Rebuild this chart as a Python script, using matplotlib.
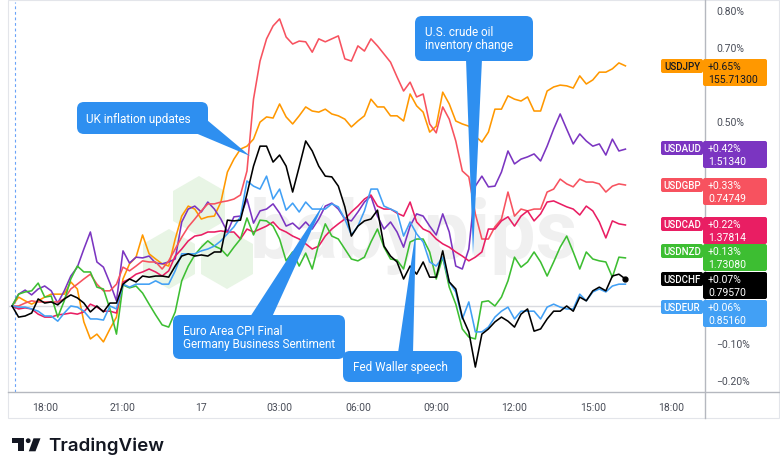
import numpy as np
import matplotlib
matplotlib.use("Agg")
import matplotlib.pyplot as plt
from matplotlib.patches import FancyBboxPatch, Polygon, RegularPolygon, Rectangle, Circle

plt.rcParams['font.family'] = ['Roboto', 'DejaVu Sans']

# ---------------- data ----------------
symbols = ["USDJPY", "USDAUD", "USDGBP", "USDCAD", "USDNZD", "USDCHF", "USDEUR"]
last_prices = ["155.71300", "1.51340", "0.74749", "1.37814", "1.73080", "0.79570", "0.85160"]
x_tick_labels = ["18:00", "21:00", "17", "03:00", "06:00", "09:00", "12:00", "15:00", "18:00"]
x_tick_hours = [0, 3, 6, 9, 12, 15, 18, 21, 24]          # hours after 18:00 (day 16)
# price-scale labels that are visible (the others sit under the value badges)
y_ticks = [-0.2, -0.1, 0.5, 0.7, 0.8]

# % change, 15-minute bars starting 16:45
usdjpy = [0.000, 0.024, 0.014, 0.005, 0.014, 0.024, 0.032, 0.032, 0.032, 0.065,
          0.046, -0.043, -0.089, -0.076, -0.097, -0.062, -0.030, 0.073, 0.114, 0.132,
          0.192, 0.141, 0.127, 0.114, 0.108, 0.181, 0.243, 0.270, 0.262, 0.235,
          0.241, 0.243, 0.281, 0.362, 0.397, 0.424, 0.432, 0.451, 0.497, 0.511,
          0.508, 0.546, 0.511, 0.492, 0.514, 0.538, 0.527, 0.524, 0.532, 0.519,
          0.514, 0.505, 0.484, 0.500, 0.514, 0.559, 0.538, 0.538, 0.514, 0.514,
          0.500, 0.573, 0.541, 0.524, 0.470, 0.486, 0.578, 0.546, 0.500, 0.492,
          0.486, 0.459, 0.443, 0.470, 0.532, 0.532, 0.568, 0.559, 0.554, 0.565,
          0.527, 0.527, 0.581, 0.592, 0.597, 0.595, 0.589, 0.622, 0.600, 0.611,
          0.632, 0.632, 0.641, 0.657, 0.649]
usdaud = [0.000, 0.032, 0.043, 0.030, 0.046, 0.054, 0.041, 0.008, 0.041, 0.081,
          0.105, 0.154, 0.200, 0.119, 0.105, 0.062, 0.014, 0.149, 0.116, 0.132,
          0.130, 0.135, 0.116, 0.114, 0.119, 0.127, 0.227, 0.262, 0.270, 0.254,
          0.281, 0.262, 0.235, 0.200, 0.241, 0.243, 0.289, 0.224, 0.257, 0.262,
          0.276, 0.251, 0.216, 0.224, 0.208, 0.227, 0.208, 0.235, 0.270, 0.278,
          0.262, 0.235, 0.230, 0.254, 0.281, 0.297, 0.243, 0.208, 0.227, 0.200,
          0.159, 0.216, 0.249, 0.243, 0.216, 0.192, 0.249, 0.200, 0.108, 0.100,
          0.154, 0.324, 0.351, 0.322, 0.324, 0.362, 0.419, 0.384, 0.397, 0.403,
          0.411, 0.392, 0.432, 0.478, 0.519, 0.478, 0.438, 0.465, 0.446, 0.432,
          0.438, 0.408, 0.451, 0.419, 0.424]
usdgbp = [0.000, 0.000, 0.008, 0.014, 0.011, 0.011, 0.011, 0.011, 0.019, 0.046,
          0.059, 0.073, 0.086, 0.059, 0.041, 0.041, 0.059, 0.105, 0.095, 0.108,
          0.122, 0.119, 0.119, 0.100, 0.122, 0.154, 0.186, 0.214, 0.235, 0.257,
          0.276, 0.276, 0.281, 0.284, 0.289, 0.300, 0.365, 0.559, 0.662, 0.722,
          0.757, 0.776, 0.727, 0.708, 0.716, 0.714, 0.686, 0.722, 0.714, 0.722,
          0.730, 0.668, 0.662, 0.703, 0.689, 0.722, 0.703, 0.681, 0.659, 0.619,
          0.581, 0.605, 0.565, 0.573, 0.492, 0.468, 0.538, 0.505, 0.446, 0.365,
          0.349, 0.249, 0.181, 0.181, 0.214, 0.235, 0.308, 0.243, 0.262, 0.257,
          0.262, 0.262, 0.308, 0.316, 0.343, 0.330, 0.322, 0.343, 0.335, 0.335,
          0.330, 0.308, 0.324, 0.330, 0.327]
usdcad = [0.000, -0.008, -0.005, -0.008, -0.022, -0.030, -0.030, -0.024, -0.022, -0.019,
          -0.022, -0.016, 0.005, -0.003, -0.014, -0.014, -0.019, 0.065, 0.073, 0.086,
          0.092, 0.100, 0.092, 0.081, 0.095, 0.135, 0.154, 0.176, 0.189, 0.192,
          0.200, 0.200, 0.203, 0.200, 0.200, 0.181, 0.208, 0.200, 0.208, 0.216,
          0.227, 0.208, 0.200, 0.189, 0.181, 0.168, 0.154, 0.162, 0.189, 0.208,
          0.222, 0.235, 0.254, 0.270, 0.289, 0.300, 0.270, 0.262, 0.262, 0.251,
          0.243, 0.281, 0.227, 0.208, 0.200, 0.181, 0.168, 0.159, 0.146, 0.135,
          0.122, 0.132, 0.146, 0.208, 0.208, 0.230, 0.241, 0.216, 0.243, 0.257,
          0.230, 0.249, 0.281, 0.284, 0.276, 0.268, 0.262, 0.246, 0.270, 0.257,
          0.227, 0.184, 0.230, 0.222, 0.219]
usdnzd = [0.000, 0.032, 0.038, 0.041, 0.062, 0.024, 0.027, -0.030, 0.014, 0.073,
          0.108, 0.092, 0.092, 0.051, 0.046, -0.008, -0.076, 0.057, 0.049, 0.054,
          0.035, 0.005, -0.024, -0.051, -0.057, -0.016, 0.068, 0.108, 0.138, 0.159,
          0.176, 0.162, 0.154, 0.135, 0.159, 0.181, 0.238, 0.192, 0.232, 0.230,
          0.216, 0.181, 0.122, 0.146, 0.108, 0.143, 0.100, 0.168, 0.222, 0.189,
          0.181, 0.154, 0.127, 0.122, 0.132, 0.173, 0.208, 0.159, 0.127, 0.124,
          0.100, 0.173, 0.181, 0.181, 0.146, 0.073, 0.132, 0.051, 0.005, -0.062,
          -0.084, -0.089, 0.011, 0.014, 0.000, 0.024, 0.068, 0.132, 0.105, 0.119,
          0.146, 0.119, 0.081, 0.119, 0.159, 0.189, 0.146, 0.100, 0.146, 0.127,
          0.122, 0.119, 0.078, 0.132, 0.130]
usdchf = [0.000, -0.030, -0.027, -0.019, 0.019, 0.008, 0.011, 0.003, 0.019, 0.030,
          0.022, 0.008, -0.016, 0.000, -0.016, 0.008, 0.008, 0.059, 0.073, 0.065,
          0.081, 0.078, 0.081, 0.081, 0.078, 0.108, 0.135, 0.141, 0.135, 0.138,
          0.135, 0.146, 0.146, 0.232, 0.230, 0.232, 0.303, 0.378, 0.432, 0.432,
          0.389, 0.408, 0.378, 0.308, 0.376, 0.446, 0.419, 0.378, 0.351, 0.349,
          0.324, 0.268, 0.189, 0.216, 0.230, 0.235, 0.259, 0.162, 0.135, 0.119,
          0.073, 0.108, 0.086, 0.119, 0.078, 0.078, 0.149, 0.065, 0.046, -0.030,
          -0.070, -0.165, -0.076, -0.062, -0.043, -0.030, -0.041, -0.057, -0.022, -0.008,
          -0.068, -0.062, -0.035, -0.014, -0.014, 0.000, -0.014, 0.024, 0.014, 0.041,
          0.051, 0.041, 0.081, 0.086, 0.073]
usdeur = [0.000, -0.003, -0.003, -0.008, -0.014, -0.027, -0.027, -0.041, -0.019, 0.000,
          -0.003, -0.014, -0.035, -0.035, -0.038, 0.000, -0.008, 0.059, 0.051, 0.059,
          0.059, 0.059, 0.068, 0.059, 0.059, 0.095, 0.141, 0.141, 0.141, 0.149,
          0.154, 0.162, 0.176, 0.195, 0.214, 0.241, 0.338, 0.324, 0.316, 0.351,
          0.289, 0.316, 0.259, 0.278, 0.254, 0.281, 0.262, 0.262, 0.262, 0.276,
          0.268, 0.235, 0.192, 0.216, 0.257, 0.316, 0.316, 0.270, 0.262, 0.254,
          0.189, 0.227, 0.195, 0.173, 0.119, 0.108, 0.132, 0.065, 0.038, -0.035,
          0.011, -0.070, -0.070, -0.057, -0.030, -0.014, -0.003, -0.035, -0.014, -0.014,
          -0.014, -0.035, -0.003, 0.005, -0.003, -0.008, -0.008, 0.032, 0.014, 0.038,
          0.046, 0.038, 0.054, 0.059, 0.059]

series = [usdjpy, usdaud, usdgbp, usdcad, usdnzd, usdchf, usdeur]
colors = ["#FF9800", "#7B35C1", "#F7525F", "#E91E63", "#3DBE32", "#000000", "#42A0F5"]
text_colors = ["#131722", "white", "white", "white", "white", "white", "white"]

# ---------------- layout ----------------
W, H = 780, 477
L, R, T, B = 8, 705, 3, 393          # plot area in pixels
ZERO_PX, PX_PER_PCT = 307.0, 370.0   # vertical scale
X18_PX, PX_PER_H = 44.7, 26.1        # horizontal scale

fig = plt.figure(figsize=(W / 100, H / 100), dpi=100)
fig.patch.set_facecolor("white")


def pixel_axes(z):
    a = fig.add_axes([0, 0, 1, 1], zorder=z)
    a.set_xlim(0, W)
    a.set_ylim(H, 0)
    a.axis("off")
    return a


bg = pixel_axes(0)
ax = fig.add_axes([L / W, 1 - B / H, (R - L) / W, (B - T) / H], zorder=1)
fg = pixel_axes(2)

# watermark (babypips)
for cx, cy in [(199, 207), (169, 260), (227, 260)]:
    bg.add_patch(RegularPolygon((cx, cy), 6, radius=30, orientation=0,
                                facecolor="#e8f5e5", edgecolor="none"))
bg.text(250, 236, "babypips", fontsize=58, fontweight="bold", color="#f0f0f0",
        va="center", ha="left")

# main axes
ax.patch.set_alpha(0)
for s in ax.spines.values():
    s.set_visible(False)
ax.set_xlim((L - X18_PX) / PX_PER_H, (R - X18_PX) / PX_PER_H)
ax.set_ylim((ZERO_PX - B) / PX_PER_PCT, (ZERO_PX - T) / PX_PER_PCT)

hours = -1.25 + 0.25 * np.arange(len(usdjpy))
ax.axhline(0, color="#d9dbe0", lw=1, zorder=1)
ax.axvline(-1.13, color="#6aa3f8", lw=0.8, ls=(0, (2.5, 2.5)), zorder=1)

order = [0, 1, 2, 3, 4, 6, 5]
for k in order:
    ax.plot(hours, series[k], color=colors[k], lw=1.15, zorder=3, solid_joinstyle="round")
ax.plot(hours[-1], usdchf[-1], "o", color="black", ms=3.5, zorder=4)

ax.set_xticks(x_tick_hours)
ax.set_xticklabels(x_tick_labels, fontsize=7.5, color="#4a4e59")
ax.tick_params(axis="x", length=0, pad=7)
ax.yaxis.tick_right()
ax.set_yticks(y_ticks)
ax.set_yticklabels([f"{v:.2f}%".replace("-", "\u2212") for v in y_ticks],
                   fontsize=7.5, color="#4a4e59")
ax.tick_params(axis="y", length=0, pad=8)

# frame lines
fg.add_patch(Rectangle((L, 0.5), W - L - 1.5, 418.5, fill=False, ec="#e3e5ea", lw=0.8, zorder=1))
fg.plot([R, R], [0, 419], color="#b5b8bf", lw=1, zorder=1)
fg.plot([L, W - 1], [B, B], color="#b5b8bf", lw=1, zorder=1)

# last value badges
badge_tops = [60, 142, 179, 218, 245, 273, 301]
for k, top in enumerate(badge_tops):
    c = colors[k]
    tc = text_colors[k]
    fg.add_patch(FancyBboxPatch((661, top), 42, 14, boxstyle="round,pad=0,rounding_size=2",
                                fc=c, ec="none", zorder=3))
    fg.add_patch(FancyBboxPatch((703, top), 64, 27, boxstyle="round,pad=0,rounding_size=2",
                                fc=c, ec="none", zorder=3))
    fg.text(682, top + 7.3, symbols[k], fontsize=7, color=tc, ha="center", va="center",
            fontweight="medium", zorder=4)
    fg.text(708, top + 7.3, f"+{series[k][-1]:.2f}%", fontsize=7.5, color=tc,
            ha="left", va="center", zorder=4)
    fg.text(708, top + 20, last_prices[k], fontsize=7.5, color=tc,
            ha="left", va="center", zorder=4)

# callouts
CALL = "#2E8FF0"


def callout(x0, y0, x1, y1, pointer, text, tx, ty):
    fg.add_patch(Polygon(pointer, closed=True, fc=CALL, ec="none", zorder=5))
    fg.add_patch(FancyBboxPatch((x0, y0), x1 - x0, y1 - y0,
                                boxstyle="round,pad=0,rounding_size=7",
                                fc=CALL, ec="none", zorder=5))
    fg.text(tx, ty, text, color="white", fontsize=8.5, ha="left", va="center",
            linespacing=1.05, zorder=6)


callout(77, 103, 208, 135, [(193, 133), (207, 121), (250, 157)],
        "UK inflation updates", 86, 119)
callout(173, 316, 345, 360, [(250, 318), (272, 318), (324, 204)],
        "Euro Area CPI Final\nGermany Business Sentiment", 183, 338)
callout(343, 352, 462, 383, [(398, 354), (413, 354), (416, 230)],
        "Fed Waller speech", 353, 368)
callout(415, 17, 533, 62, [(466, 60), (482, 60), (473, 256)],
        "U.S. crude oil\ninventory change", 425, 39)

# TradingView logo
LOGO = "#131722"
fg.add_patch(Rectangle((12.3, 439.3), 11.7, 4.7, fc=LOGO, ec="none"))
fg.add_patch(Rectangle((17.5, 439.3), 6.5, 13.0, fc=LOGO, ec="none"))
fg.add_patch(Circle((28.2, 441.7), 2.4, fc=LOGO, ec="none"))
fg.add_patch(Polygon([(33.5, 439.3), (40.5, 439.3), (35.5, 452.3), (28.8, 452.3)],
                     closed=True, fc=LOGO, ec="none"))
fg.text(48.5, 446.5, "TradingView", fontsize=13.5, fontweight="semibold", color=LOGO,
        family=["Inter", "DejaVu Sans"], ha="left", va="center")

fig.savefig("out.png", dpi=100, facecolor="white")
